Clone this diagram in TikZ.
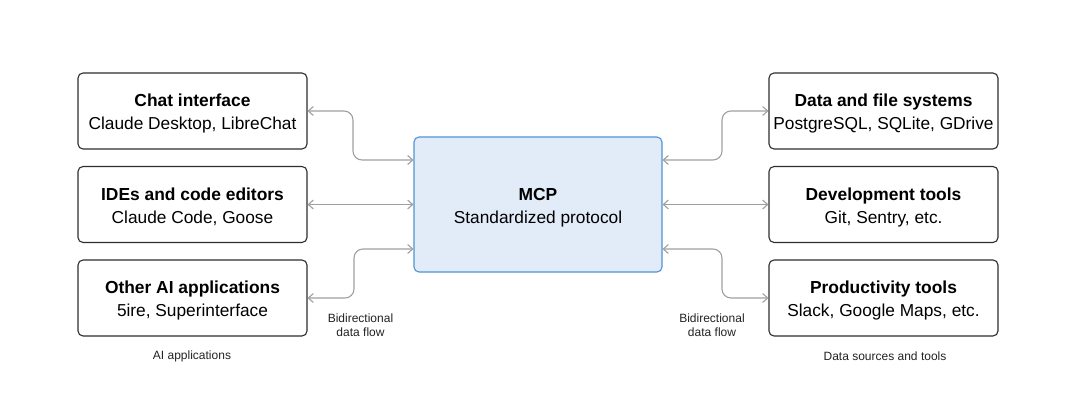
\documentclass[tikz,border=0pt]{standalone}
\usepackage{fontspec}
\setmainfont{Liberation Sans}
\usetikzlibrary{arrows.meta}
\definecolor{boxline}{HTML}{2E2E2E}
\definecolor{mcpfill}{HTML}{E2ECF8}
\definecolor{mcpline}{HTML}{4F93D2}
\definecolor{arrowgray}{HTML}{A0A0A0}
\definecolor{labelgray}{HTML}{222222}
\tikzset{
  appbox/.style={draw=boxline, line width=1.1pt, rounded corners=5pt, minimum width=229pt, minimum height=76pt, align=center, fill=white, inner sep=0pt, font=\fontsize{17.3}{22.5}\selectfont},
  mcpbox/.style={draw=mcpline, line width=1.1pt, rounded corners=5pt, fill=mcpfill, minimum width=248pt, minimum height=135pt, align=center, inner sep=0pt, font=\fontsize{17.3}{22.5}\selectfont},
  flow/.style={draw=arrowgray, line width=1.1pt, rounded corners=9pt, {Straight Barb[length=5pt,width=9pt]}-{Straight Barb[length=5pt,width=9pt]}},
  smalllabel/.style={font=\fontsize{12}{14}\selectfont, text=labelgray, align=center, inner sep=0pt},
}
\newcommand{\boxtext}[2]{\raisebox{-2.5pt}[\height][\depth]{\begin{tabular}{@{}c@{}}{\fontsize{17.4}{22.5}\selectfont\bfseries #1}\\[0.5pt]{#2}\end{tabular}}}
\begin{document}
\begin{tikzpicture}[x=1pt,y=-1pt]
\useasboundingbox (0,0) rectangle (1080,409);
% left boxes
\node[appbox] (chat) at (192.5,111) {\boxtext{Chat interface}{Claude Desktop, LibreChat}};
\node[appbox] (ide) at (192.5,204.5) {\boxtext{IDEs and code editors}{Claude Code, Goose}};
\node[appbox] (other) at (192.5,298) {\boxtext{Other AI applications}{5ire, Superinterface}};
% center
\node[mcpbox] (mcp) at (538,204.5) {\boxtext{MCP}{Standardized protocol}};
% right boxes
\node[appbox] (data) at (883.5,111) {\boxtext{Data and file systems}{PostgreSQL, SQLite, GDrive}};
\node[appbox] (dev) at (883.5,204.5) {\boxtext{Development tools}{Git, Sentry, etc.}};
\node[appbox] (prod) at (883.5,298) {\boxtext{Productivity tools}{Slack, Google Maps, etc.}};
% coordinates on MCP box
\coordinate (mL1) at (mcp.west |- 0,160);
\coordinate (mL3) at (mcp.west |- 0,249);
\coordinate (mR1) at (mcp.east |- 0,160);
\coordinate (mR3) at (mcp.east |- 0,249);
% left connectors
\draw[flow] (chat.east) -| (353,135) |- (mL1);
\draw[flow] (ide.east) -- (ide.east -| mcp.west);
\draw[flow] (other.east) -| (354,273) |- (mL3);
% right connectors
\draw[flow] (mR1) -| (722,135) |- (data.west);
\draw[flow] (dev.west -| mcp.east) -- (dev.west);
\draw[flow] (mR3) -| (722,273) |- (prod.west);
% labels
\node[smalllabel] (bdl) at (360.5,325) {Bidirectional\\data flow};
\node[smalllabel] (bdr) at (712,325) {Bidirectional\\data flow};
\node[smalllabel] (ai) at (192,356) {AI applications};
\node[smalllabel] (ds) at (885,356) {Data sources and tools};
\end{tikzpicture}
\end{document}
